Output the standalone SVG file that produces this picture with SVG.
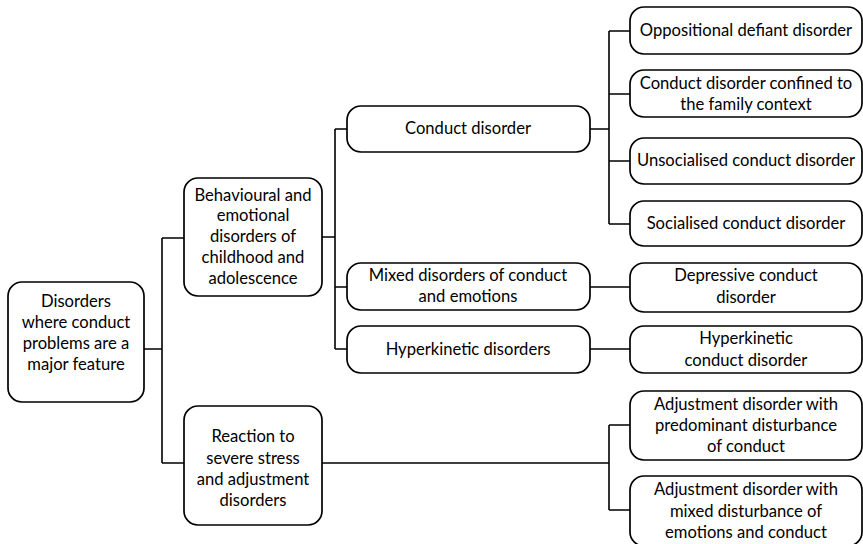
<svg xmlns="http://www.w3.org/2000/svg" width="863" height="544" viewBox="0 0 863 544">
<style>
.box{fill:#fff;stroke:#000;stroke-width:1.7}
.t{font-family:Lato,"Liberation Sans",sans-serif;font-size:16.6px;fill:#000;text-anchor:middle}
.c{fill:none;stroke:#000;stroke-width:1.6}
</style>
<rect width="863" height="544" fill="#fff"/>
<g id="connectors">
<path class="c" d="M144 349H162M162 238V463M162 238H184M162 463H184"/>
<path class="c" d="M322 237H335M335 129V349M335 129H347M335 287H347M335 349H347"/>
<path class="c" d="M590 129H609M609 31V224M609 31H630M609 94H630M609 161H630M609 224H630"/>
<path class="c" d="M590 287H630M590 349H630"/>
<path class="c" d="M322 463H609M609 425V510M609 425H630M609 510H630"/>
</g>
<g id="root"><rect class="box" x="8" y="282" width="136" height="120" rx="14"/>
<text class="t" x="76" y="307">Disorders</text><text class="t" x="76" y="328">where conduct</text><text class="t" x="76" y="349">problems are a</text><text class="t" x="76" y="370">major feature</text></g>
<g id="behav"><rect class="box" x="184" y="178" width="138" height="118" rx="14"/>
<text class="t" x="253" y="201">Behavioural and</text><text class="t" x="253" y="221">emotional</text><text class="t" x="253" y="242">disorders of</text><text class="t" x="253" y="263">childhood and</text><text class="t" x="253" y="284">adolescence</text></g>
<g id="reaction"><rect class="box" x="184" y="406" width="138" height="119" rx="14"/>
<text class="t" x="253" y="442">Reaction to</text><text class="t" x="253" y="464">severe stress</text><text class="t" x="253" y="485">and adjustment</text><text class="t" x="253" y="506">disorders</text></g>
<g id="conduct"><rect class="box" x="347" y="106" width="243" height="46" rx="14"/>
<text class="t" x="468" y="134">Conduct disorder</text></g>
<g id="mixed"><rect class="box" x="347" y="263" width="243" height="47" rx="14"/>
<text class="t" x="468" y="281">Mixed disorders of conduct</text><text class="t" x="468" y="302">and emotions</text></g>
<g id="hyper"><rect class="box" x="347" y="326" width="243" height="47" rx="14"/>
<text class="t" x="468" y="355">Hyperkinetic disorders</text></g>
<g id="odd"><rect class="box" x="630" y="7" width="232" height="47" rx="14"/>
<text class="t" x="746" y="36">Oppositional defiant disorder</text></g>
<g id="family"><rect class="box" x="630" y="70" width="232" height="47" rx="14"/>
<text class="t" x="746" y="89">Conduct disorder confined to</text><text class="t" x="746" y="110">the family context</text></g>
<g id="unsoc"><rect class="box" x="630" y="138" width="232" height="46" rx="14"/>
<text class="t" x="746" y="166">Unsocialised conduct disorder</text></g>
<g id="soc"><rect class="box" x="630" y="201" width="232" height="45" rx="14"/>
<text class="t" x="746" y="229">Socialised conduct disorder</text></g>
<g id="depr"><rect class="box" x="630" y="263" width="232" height="49" rx="14"/>
<text class="t" x="746" y="281">Depressive conduct</text><text class="t" x="746" y="303">disorder</text></g>
<g id="hyperc"><rect class="box" x="630" y="326" width="232" height="47" rx="14"/>
<text class="t" x="746" y="344">Hyperkinetic</text><text class="t" x="746" y="366">conduct disorder</text></g>
<g id="adj1"><rect class="box" x="630" y="391" width="232" height="69" rx="14"/>
<text class="t" x="746" y="410">Adjustment disorder with</text><text class="t" x="746" y="431">predominant disturbance</text><text class="t" x="746" y="452">of conduct</text></g>
<g id="adj2"><rect class="box" x="630" y="476" width="232" height="70" rx="14"/>
<text class="t" x="746" y="495">Adjustment disorder with</text><text class="t" x="746" y="517">mixed disturbance of</text><text class="t" x="746" y="538">emotions and conduct</text></g>
</svg>
